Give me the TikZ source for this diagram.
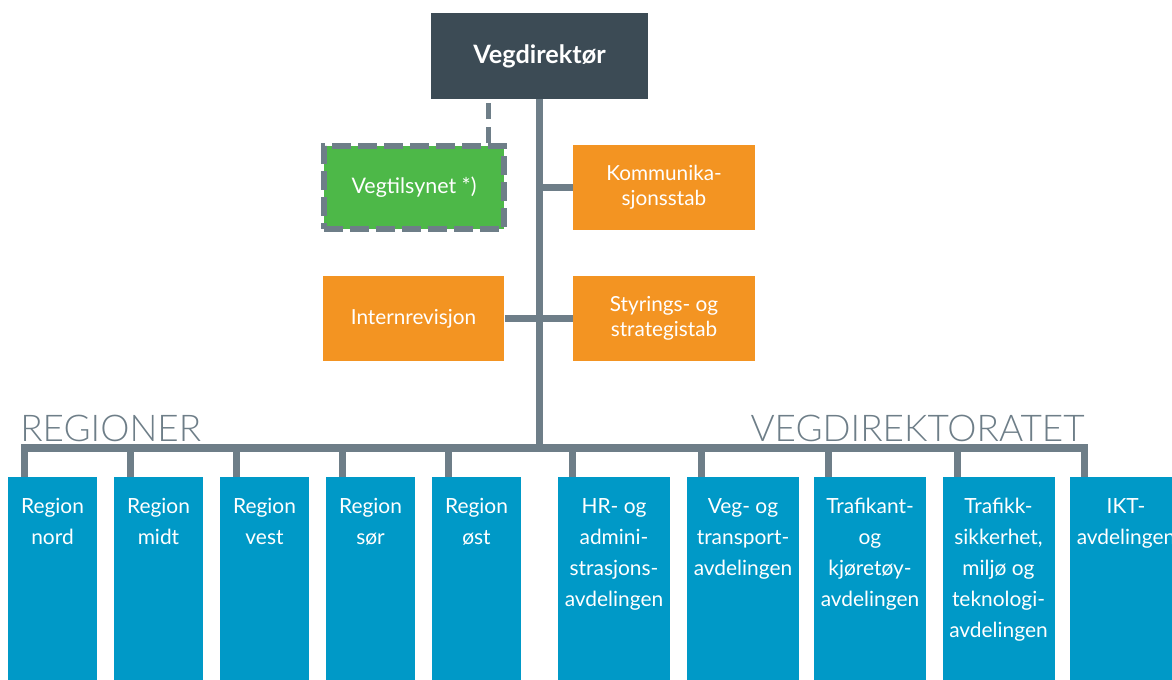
\documentclass[tikz,border=0pt]{standalone}
\usepackage{fontspec}
\setmainfont{Lato}
\newfontfamily\thinfont{Lato Light}
\usepackage{xcolor}
\usetikzlibrary{positioning}

\definecolor{slate}{HTML}{3C4B55}
\definecolor{linegray}{HTML}{6E7E88}
\definecolor{stabsorange}{HTML}{F39422}
\definecolor{tilsyngreen}{HTML}{4DB848}
\definecolor{unitblue}{HTML}{0099C7}

\tikzset{
  link/.style={draw=linegray, line width=4pt, line join=miter},
  dashlink/.style={draw=linegray, line width=2.8pt, dash pattern=on 0.32cm off 0.16cm},
  topbox/.style={fill=slate, text=white, minimum width=4.34cm, minimum height=1.72cm,
    inner sep=0pt, font=\bfseries\fontsize{14.4pt}{17pt}\selectfont},
  stabsbox/.style={fill=stabsorange, text=white, minimum width=3.64cm, minimum height=1.72cm,
    inner sep=0pt, align=center, font=\fontsize{11.8pt}{14.4pt}\selectfont},
  tilsynbox/.style={fill=tilsyngreen, draw=linegray, line width=3.4pt,
    dash pattern=on 0.38cm off 0.14cm, text=white, minimum width=3.6cm, minimum height=1.66cm,
    inner sep=0pt, font=\fontsize{12.2pt}{14.4pt}\selectfont},
  regionbox/.style={fill=unitblue, minimum width=1.78cm, minimum height=4.3cm, inner sep=0pt, anchor=north},
  deptbox/.style={regionbox, minimum width=2.24cm},
  unittext/.style={text=white, align=center, inner sep=0pt, font=\fontsize{11.9pt}{17.6pt}\selectfont},
  heading/.style={text=linegray, inner sep=0pt, font=\thinfont\fontsize{21pt}{24pt}\selectfont}
}

\begin{document}
\begin{tikzpicture}[x=0.02cm, y=-0.02cm]
  \useasboundingbox (0,0) rectangle (1172,679);

  % Ledelse og staber
  \node[topbox] (vegdir) at (539.5,56) {Vegdirektør};
  \node[tilsynbox] (tilsyn) at (414,187.5) {Vegtilsynet *)};
  \node[stabsbox] (komm) at (664,187.5) {Kommunika-\\sjonsstab};
  \node[stabsbox] (intern) at (413.5,318.5) {Internrevisjon};
  \node[stabsbox] (styr) at (664,318.5) {Styrings- og\\strategistab};

  \coordinate (bar) at (539.5,448);

  % Overskrifter
  \node[heading, anchor=base west] (regioner) at (20,441) {REGIONER};
  \node[heading, anchor=base east] (vegdirektoratet) at (1085,441) {VEGDIREKTORATET};

  % Regioner
  \foreach \name/\x/\txt in {nord/52.5/{Region\\nord}, midt/158.5/{Region\\midt},
      vest/264.5/{Region\\vest}, sor/370.5/{Region\\sør}, ost/476.5/{Region\\øst}} {
    \node[regionbox] (\name) at (\x,477) {};
    \node[unittext, below=0.42cm of \name.north] (\name-text) {\txt};
    \draw[link] ([xshift=0.34cm]\name.north west) |- (bar);
  }

  % Avdelinger i Vegdirektoratet
  \foreach \name/\x/\txt in {hr/614/{HR- og\\admini-\\strasjons-\\avdelingen},
      veg/743/{Veg- og\\transport-\\avdelingen},
      trafikant/870/{Trafikant-\\og\\kjøretøy-\\avdelingen},
      trafikk/998.5/{Trafikk-\\sikkerhet,\\miljø og\\teknologi-\\avdelingen},
      ikt/1126/{IKT-\\avdelingen}} {
    \node[deptbox] (\name) at (\x,477) {};
    \node[unittext, below=0.42cm of \name.north] (\name-text) {\txt};
    \draw[link] ([xshift=0.3cm]\name.north west) |- (bar);
  }

  % Linjer
  \draw[link] (vegdir.south) -- (bar);
  \draw[link] (komm.west) -- (komm.west -| vegdir.south);
  \draw[link] (intern.east) -- (styr.west);
  \draw[dashlink] ([xshift=-0.37cm]tilsyn.north east) -- ([xshift=-0.37cm]tilsyn.north east |- vegdir.south);
\end{tikzpicture}
\end{document}
